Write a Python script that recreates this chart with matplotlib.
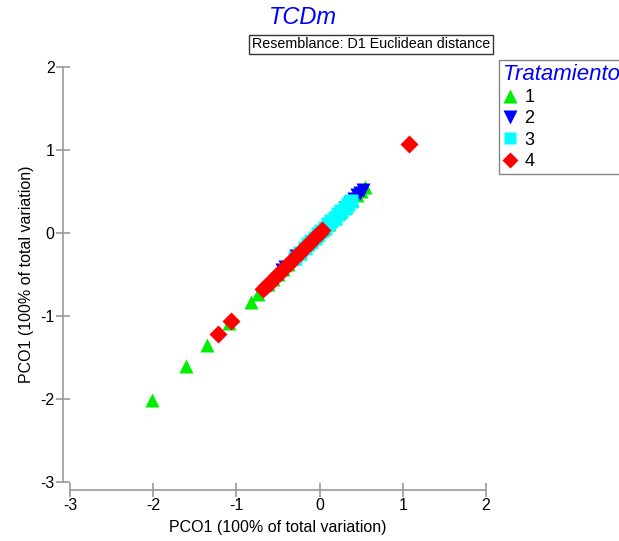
import matplotlib.pyplot as plt
from matplotlib.lines import Line2D

plt.rcParams['font.family'] = ['Liberation Sans', 'DejaVu Sans']
plt.rcParams['axes.unicode_minus'] = False

# PCO1 scores per treatment (plotted against themselves)
trat1 = [-2.02, -1.61, -1.35, -1.09, -0.83, -0.74, -0.62, -0.56, -0.5, -0.44, -0.38,
         -0.31, -0.24, -0.17, -0.1, -0.03, 0.04, 0.11, 0.18, 0.25, 0.32, 0.39, 0.45,
         0.5, 0.55]
trat2 = [-0.45, -0.41, -0.28, 0.3, 0.36, 0.41, 0.45, 0.48, 0.52]
trat3 = [-0.3, -0.24, -0.18, -0.14, -0.1, -0.06, -0.02, 0.02, 0.06, 0.1, 0.14, 0.18,
         0.22, 0.26, 0.3, 0.34, 0.38]
trat4 = [1.07, -1.06, -1.22, -0.68, -0.64, -0.6, -0.56, -0.52, -0.48, -0.44, -0.4,
         -0.36, -0.32, -0.28, -0.24, -0.2, -0.16, -0.12, -0.08, -0.04, 0.0, 0.03]

ticks = [-3, -2, -1, 0, 1, 2]
axis_label = 'PCO1 (100% of total variation)'

fig = plt.figure(figsize=(6.19, 5.41), dpi=100)
ax = fig.add_axes([70/619, 59.3/541, 416/619, 415/541])

ax.plot(trat1, trat1, linestyle='none', marker='^', color='#00ee00', markersize=10, mec='none')
ax.plot(trat2, trat2, linestyle='none', marker='v', color='#0000ff', markersize=10, mec='none')
ax.plot(trat3, trat3, linestyle='none', marker='s', color='#00ffff', markersize=10, mec='none')
ax.plot(trat4, trat4, linestyle='none', marker='D', color='#ff0000', markersize=9, mec='none')

ax.set_xlim(-3, 2)
ax.set_ylim(-3, 2)
ax.set_xticks(ticks)
ax.set_yticks(ticks)
for s in ['top', 'right']:
    ax.spines[s].set_visible(False)
ax.spines['left'].set_position(('outward', 5))
ax.spines['bottom'].set_position(('outward', 6))
for s in ['left', 'bottom']:
    ax.spines[s].set_color('#999999')
    ax.spines[s].set_linewidth(1.2)
ax.tick_params(direction='inout', length=10, width=1.2, color='#999999',
               labelsize=11.5, pad=1)
ax.set_xlabel(axis_label, fontsize=11.5, labelpad=5)
ax.set_ylabel(axis_label, fontsize=11.5, labelpad=5)

fig.text(303/619, 1 - 18/541, 'TCDm', color='#0000ff', style='italic',
         fontsize=17, ha='center', va='center')
fig.text(371/619, 1 - 44.5/541, 'Resemblance: D1 Euclidean distance', fontsize=10.3,
         ha='center', va='center',
         bbox=dict(boxstyle='square,pad=0.2', fc='white', ec='#333333', lw=1))

handles = [
    Line2D([], [], linestyle='none', marker='^', color='#00ee00', markersize=10, mec='none'),
    Line2D([], [], linestyle='none', marker='v', color='#0000ff', markersize=10, mec='none'),
    Line2D([], [], linestyle='none', marker='s', color='#00ffff', markersize=9, mec='none'),
    Line2D([], [], linestyle='none', marker='D', color='#ff0000', markersize=8, mec='none'),
]
leg = fig.legend(handles, ['1', '2', '3', '4'], title='Tratamiento',
                 loc='upper left', bbox_to_anchor=(499/619, 1 - 60/541),
                 fontsize=13, frameon=True, fancybox=False, edgecolor='#666666',
                 handlelength=0.8, handletextpad=0.4, labelspacing=0.24,
                 borderpad=0.2, borderaxespad=0, alignment='left')
leg.get_title().set_color('#0000ff')
leg.get_title().set_style('italic')
leg.get_title().set_fontsize(16)

fig.savefig('out.png', dpi=100)
